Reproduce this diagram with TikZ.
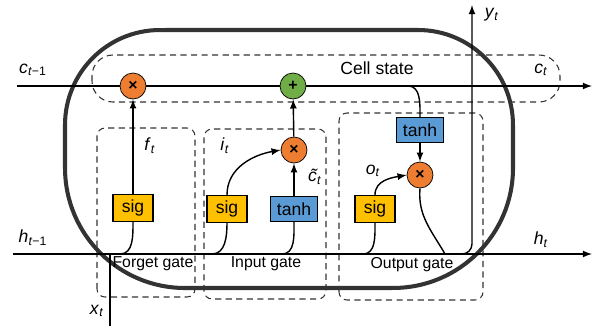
\documentclass[tikz,border=0pt]{standalone}
\usepackage{fontspec}
\setmainfont{Liberation Sans}
\usetikzlibrary{calc}

\definecolor{mulorange}{HTML}{ED7D31}
\definecolor{addgreen}{HTML}{70AD47}
\definecolor{sigyellow}{HTML}{FFC000}
\definecolor{tanhblue}{HTML}{5B9BD5}
\definecolor{cellgray}{HTML}{333333}

\newcommand{\lstmvar}[2]{\textit{#1}\textsubscript{\textit{#2}}}

\begin{document}
\begin{tikzpicture}[x=0.02cm, y=0.02cm, font=\normalsize, >=latex,
  sigbox/.style={draw, thick, fill=sigyellow, minimum width=0.8cm, minimum height=0.54cm, inner sep=0pt},
  tanhbox/.style={draw, thick, fill=tanhblue, minimum width=0.94cm, minimum height=0.5cm, inner sep=0pt},
  mulnode/.style={circle, draw, fill=mulorange, minimum size=0.52cm, inner sep=0pt, font=\small\bfseries},
  addnode/.style={circle, draw, fill=addgreen, minimum size=0.52cm, inner sep=0pt, font=\small\bfseries},
  gatebox/.style={draw=cellgray, line width=0.6pt, dash pattern=on 3.5pt off 2.5pt, rounded corners=0.16cm}]
  \useasboundingbox (0,0) rectangle (599,329);

  % Riquadri tratteggiati delle porte
  \draw[gatebox, rounded corners=0.42cm] (92,227) rectangle (560,274);
  \draw[gatebox] (97,32) rectangle (195,201);
  \draw[gatebox] (204,30) rectangle (326,200);
  \draw[gatebox] (339,29) rectangle (483,216);

  % Cella (bordo spesso)
  \draw[line width=2.3pt, cellgray] (65,161) -- (65,204)
    arc[start angle=180, end angle=90, radius=1.9cm] -- (418,299)
    arc[start angle=90, end angle=0, radius=1.9cm] -- (513,161)
    arc[start angle=0, end angle=-90, radius=2.4cm] -- (185,41)
    arc[start angle=270, end angle=180, radius=2.4cm] -- cycle;

  % Operatori e funzioni di attivazione
  \node[mulnode] (mulf) at (133,243) {×};
  \node[addnode] (plus) at (293,243) {+};
  \node[mulnode] (muli) at (294,179) {×};
  \node[mulnode] (mulo) at (420,154) {×};
  \node[sigbox] (sigf) at (133,121) {sig};
  \node[sigbox] (sigi) at (227,120) {sig};
  \node[tanhbox] (tanhi) at (294,120) {tanh};
  \node[sigbox] (sigo) at (375,120) {sig};
  \node[tanhbox] (tanho) at (420,199) {tanh};

  % Estremi delle linee
  \coordinate (cin) at (17,243);
  \coordinate (cout) at (592,243);
  \coordinate (hin) at (13,75);
  \coordinate (hout) at (592,75);
  \coordinate (xin) at (110,3);
  \coordinate (yout) at (472,324);
  \coordinate (jc) at (408,243);
  \coordinate (jf) at (120,75);
  \coordinate (ji) at (212,75);
  \coordinate (jt) at (282,75);
  \coordinate (jo) at (363,75);
  \coordinate (jh) at (445,75);
  \coordinate (jy) at (458,75);

  % Stato della cella
  \draw[->, thick] (cin) -- (mulf) -- (plus) -- (cout);
  \node at (377,261) {Cell state};

  % Stato nascosto e ingresso
  \draw[->, thick] (hin) -- (hout);
  \draw[thick] (xin) -- (xin |- hin);

  % Forget gate
  \draw[thick] (jf) to[out=0, in=-90] (sigf.south);
  \draw[->, thick] (sigf) -- (mulf);

  % Input gate
  \draw[thick] (ji) to[out=0, in=-90] (sigi.south);
  \draw[thick] (jt) to[out=0, in=-90] (tanhi.south);
  \draw[->, thick] (sigi.north) to[out=90, in=190] (muli.west);
  \draw[->, thick] (tanhi) -- (muli);
  \draw[->, thick] (muli) -- (plus);

  % Output gate
  \draw[thick] (jo) to[out=0, in=-90] (sigo.south);
  \draw[->, thick] (sigo.north) to[out=90, in=190] (mulo.west);
  \draw[thick] (jc) to[out=0, in=90] (tanho.north);
  \draw[->, thick] (tanho) -- (mulo);
  \draw[thick] (mulo.south) to[out=-95, in=120] (jh);
  \draw[->, thick, rounded corners=0.2cm] (jy) -| (yout);

  % Etichette
  \node at (33,259) {\textit{c}\textsubscript{\textit{t}−1}};
  \node at (541,259) {\lstmvar{c}{t}};
  \node at (33,91) {\textit{h}\textsubscript{\textit{t}−1}};
  \node at (541,89) {\lstmvar{h}{t}};
  \node at (97,18) {\lstmvar{x}{t}};
  \node at (492,314) {\lstmvar{y}{t}};
  \node at (150,183) {\lstmvar{f}{t}};
  \node at (225,183) {\lstmvar{i}{t}};
  \node at (315,152) {\lstmvar{\~c}{t}};
  \node at (373,158) {\lstmvar{o}{t}};
  \node[font=\small] at (153,65) {Forget gate};
  \node[font=\small] at (266,65) {Input gate};
  \node[font=\small] at (412,64) {Output gate};
\end{tikzpicture}
\end{document}
